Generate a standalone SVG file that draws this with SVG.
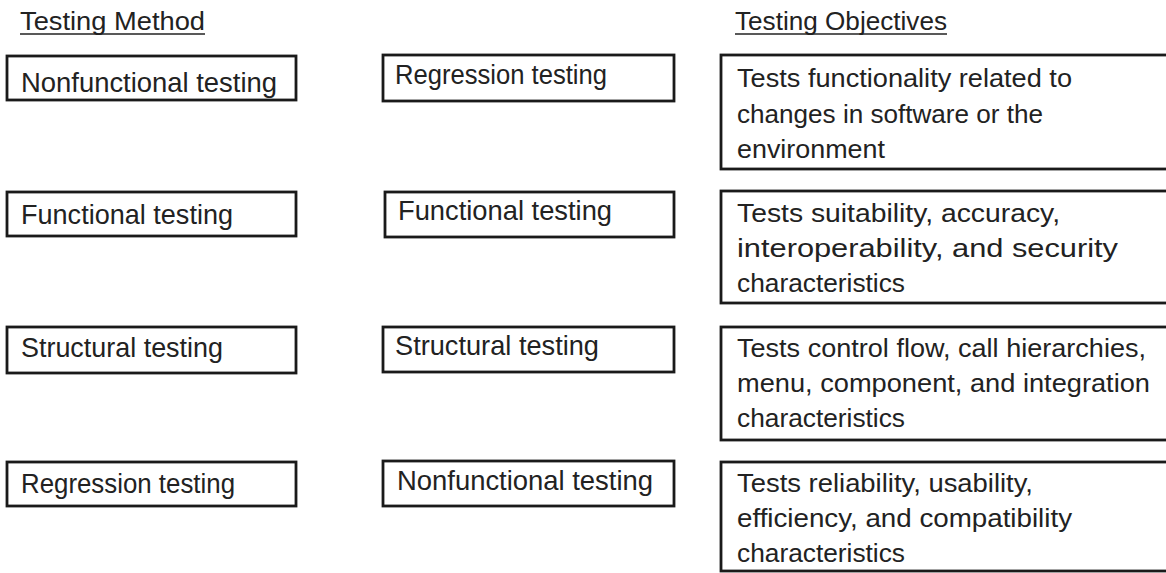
<svg xmlns="http://www.w3.org/2000/svg" width="1166" height="573" viewBox="0 0 1166 573">
<style>
  .box{fill:#ffffff;stroke:#1a1a1a;stroke-width:2.8}
  .t{font-family:"Liberation Sans",Arial,sans-serif;fill:#222222}
  .lbl{font-size:27.5px}
  .obj{font-size:25.5px}
  .hdr{font-size:25px}
  .ul{stroke:#222222;stroke-width:1.6}
</style>
<rect width="1166" height="573" fill="#ffffff"/>
<g id="headers">
  <text class="t hdr" x="20" y="30" textLength="185" lengthAdjust="spacingAndGlyphs">Testing Method</text>
  <line class="ul" x1="20" y1="34" x2="205" y2="34"/>
  <text class="t hdr" x="735" y="30" textLength="212" lengthAdjust="spacingAndGlyphs">Testing Objectives</text>
  <line class="ul" x1="735" y1="34" x2="947" y2="34"/>
</g>
<g id="connectors"></g>
<g id="method-nonfunctional">
  <rect class="box" x="7" y="56" width="289" height="44"/>
  <text class="t lbl" x="21" y="92" textLength="256" lengthAdjust="spacingAndGlyphs">Nonfunctional testing</text>
</g>
<g id="method-functional">
  <rect class="box" x="7" y="192" width="289" height="44"/>
  <text class="t lbl" x="21" y="224" textLength="212" lengthAdjust="spacingAndGlyphs">Functional testing</text>
</g>
<g id="method-structural">
  <rect class="box" x="7" y="327" width="289" height="46"/>
  <text class="t lbl" x="21" y="357" textLength="202" lengthAdjust="spacingAndGlyphs">Structural testing</text>
</g>
<g id="method-regression">
  <rect class="box" x="7" y="462" width="289" height="44"/>
  <text class="t lbl" x="21" y="493" textLength="214" lengthAdjust="spacingAndGlyphs">Regression testing</text>
</g>
<g id="answer-regression">
  <rect class="box" x="383" y="55" width="291" height="46"/>
  <text class="t lbl" x="395" y="84" textLength="212" lengthAdjust="spacingAndGlyphs">Regression testing</text>
</g>
<g id="answer-functional">
  <rect class="box" x="385" y="192" width="289" height="45"/>
  <text class="t lbl" x="398" y="220" textLength="214" lengthAdjust="spacingAndGlyphs">Functional testing</text>
</g>
<g id="answer-structural">
  <rect class="box" x="383" y="327" width="291" height="45"/>
  <text class="t lbl" x="395" y="355" textLength="204" lengthAdjust="spacingAndGlyphs">Structural testing</text>
</g>
<g id="answer-nonfunctional">
  <rect class="box" x="383" y="461" width="291" height="45"/>
  <text class="t lbl" x="397" y="490" textLength="256" lengthAdjust="spacingAndGlyphs">Nonfunctional testing</text>
</g>
<g id="objective-changes">
  <rect class="box" x="721" y="55" width="460" height="114"/>
  <text class="t obj" x="737" y="87" textLength="335" lengthAdjust="spacingAndGlyphs">Tests functionality related to</text>
  <text class="t obj" x="737" y="122.5" textLength="306" lengthAdjust="spacingAndGlyphs">changes in software or the</text>
  <text class="t obj" x="737" y="158" textLength="148" lengthAdjust="spacingAndGlyphs">environment</text>
</g>
<g id="objective-suitability">
  <rect class="box" x="721" y="191" width="460" height="112"/>
  <text class="t obj" x="737" y="222" textLength="323" lengthAdjust="spacingAndGlyphs">Tests suitability, accuracy,</text>
  <text class="t obj" x="737" y="257" textLength="381" lengthAdjust="spacingAndGlyphs">interoperability, and security</text>
  <text class="t obj" x="737" y="292" textLength="168" lengthAdjust="spacingAndGlyphs">characteristics</text>
</g>
<g id="objective-control-flow">
  <rect class="box" x="721" y="327" width="460" height="113"/>
  <text class="t obj" x="737" y="357" textLength="409" lengthAdjust="spacingAndGlyphs">Tests control flow, call hierarchies,</text>
  <text class="t obj" x="737" y="392" textLength="413" lengthAdjust="spacingAndGlyphs">menu, component, and integration</text>
  <text class="t obj" x="737" y="427" textLength="168" lengthAdjust="spacingAndGlyphs">characteristics</text>
</g>
<g id="objective-reliability">
  <rect class="box" x="721" y="462" width="460" height="109"/>
  <text class="t obj" x="737" y="492" textLength="296" lengthAdjust="spacingAndGlyphs">Tests reliability, usability,</text>
  <text class="t obj" x="737" y="527" textLength="335" lengthAdjust="spacingAndGlyphs">efficiency, and compatibility</text>
  <text class="t obj" x="737" y="562" textLength="168" lengthAdjust="spacingAndGlyphs">characteristics</text>
</g>
</svg>
